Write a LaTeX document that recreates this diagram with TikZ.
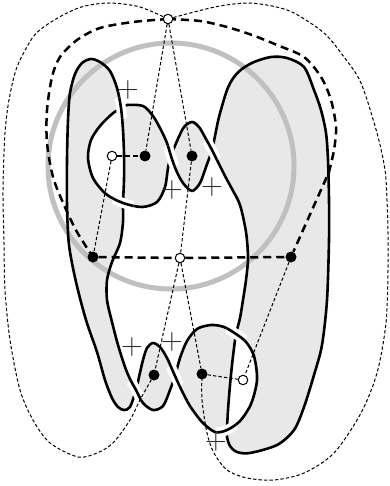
\documentclass[tikz,border=0pt]{standalone}
\pgfdeclarelayer{bg}
\pgfsetlayers{bg,main}
\definecolor{bandfill}{RGB}{232,232,232}
\definecolor{ringgray}{RGB}{192,192,192}
\definecolor{plusgray}{RGB}{45,45,45}
\tikzset{
  knot/.style={line width=2.6pt, line join=round, line cap=round},
  halo/.style={white, line width=10pt},
  thindash/.style={line width=1pt, dash pattern=on 3.3pt off 2.2pt},
  middash/.style={line width=1.6pt, dash pattern=on 5pt off 3pt},
  thickdash/.style={line width=2.5pt, dash pattern=on 8pt off 5pt},
  bdot/.style={circle, fill=black, inner sep=0pt, minimum size=11pt},
  wdot/.style={circle, draw=black, fill=white, line width=1pt, inner sep=0pt, minimum size=9.5pt},
  plusmark/.style={text=plusgray, inner sep=0pt, font=\fontsize{30}{30}\selectfont},
}
\newcommand\curveA{plot[smooth cycle] coordinates {(123,203) (124,180) (124,155) (123,130) (121,108) (117,88) (110,71) (100,62) (91,59) (82,63) (75,74) (70,93) (68,120) (67,160) (67,205) (69,245) (76,282) (86,320) (97,352) (105,380) (112,398) (118,407) (124,410) (130,407) (136,390) (139,377) (143,360) (147,348) (153,343) (160,347) (167,358) (175,376) (182,391) (190,406) (202,422) (215,432) (227,430) (240,421) (251,404) (257,380) (254,356) (246,342) (236,334) (224,327) (211,325) (197,329) (187,341) (180,358) (175,376) (170,390) (163,406) (153,410) (143,403) (136,390) (130,379) (125,367) (118,345) (112,322) (107,300) (107,280) (112,262) (120,243) (123,222)}}
\newcommand\curveB{plot[smooth cycle] coordinates {(121,108) (127,105) (143,106) (153,116) (161,130) (167,143) (171,156) (176,170) (183,183) (192,191) (200,183) (206,167) (212,150) (215,136) (219,117) (227,90) (234,77) (242,69) (254,62) (271,57) (287,58) (304,67) (314,90) (321,110) (326,133) (328,160) (329,200) (329,240) (327,300) (322,345) (314,375) (304,407) (294,430) (277,445) (250,453) (237,452) (230,446) (227,437) (227,430) (228,410) (230,385) (232,365) (234,348) (236,334) (240,318) (243,300) (246,280) (248,258) (246,232) (240,205) (232,189) (225,176) (218,162) (212,150) (206,139) (199,127) (192,122) (184,127) (177,141) (171,156) (168,168) (165,187) (157,202) (142,207) (123,203) (106,194) (93,178) (88,158) (91,140) (100,126) (112,114)}}
\newcommand\overat[2]{\begin{scope}\clip #1 circle (11pt); \draw[halo] plot[smooth] coordinates {#2}; \draw[knot] plot[smooth] coordinates {#2};\end{scope}}
\begin{document}
\begin{tikzpicture}[x=1pt,y=-1pt]
\useasboundingbox (0,0) rectangle (389,486);
% vertices
\node[wdot] (T) at (168,19) {};
\node[wdot] (H1) at (112,156) {};
\node[bdot] (B1) at (145,156) {};
\node[bdot] (B2) at (192,156) {};
\node[bdot] (L) at (93,257) {};
\node[wdot] (C) at (180,258) {};
\node[bdot] (R) at (291,257) {};
\node[bdot] (B3) at (154,375) {};
\node[bdot] (B4) at (202,374) {};
\node[wdot] (H2) at (243,380) {};
% plus marks
\node[plusmark] (p1) at (128,90) {+};
\node[plusmark] (p2) at (172,190) {+};
\node[plusmark] (p3) at (212,187) {+};
\node[plusmark] (p4) at (132,347) {+};
\node[plusmark] (p5) at (172,342) {+};
\node[plusmark] (p6) at (216,442) {+};
\begin{pgfonlayer}{bg}
\fill[white] (0,0) rectangle (389,486);
\fill[bandfill, even odd rule] \curveA \curveB;
\draw[ringgray, line width=5pt] (171,166) circle (123pt);
\draw[knot] \curveA;
\draw[knot] \curveB;
% crossings
\overat{(121,108)}{(124,180) (124,155) (123,130) (121,108) (117,88) (110,71) (100,62)}
\overat{(136,390)}{(170,390) (163,406) (153,410) (143,403) (136,390) (130,379) (125,367) (118,345)}
\overat{(175,376)}{(147,348) (153,343) (160,347) (167,358) (175,376) (182,391) (190,406) (202,422)}
\overat{(227,430)}{(190,406) (202,422) (215,432) (227,430) (240,421) (251,404) (257,380)}
\overat{(236,334)}{(257,380) (254,356) (246,342) (236,334) (224,327) (211,325) (197,329)}
\overat{(123,203)}{(168,168) (165,187) (157,202) (142,207) (123,203) (106,194) (93,178) (88,158)}
\overat{(171,156)}{(143,106) (153,116) (161,130) (167,143) (171,156) (176,170) (183,183) (192,191)}
\overat{(212,150)}{(240,205) (232,189) (225,176) (218,162) (212,150) (206,139) (199,127) (192,122)}
% dashed graph
\draw[thickdash] plot[smooth] coordinates {(T) (133,22) (100,28) (77,40) (60,57) (52,77) (47,110) (47,143) (53,177) (64,205) (77,232) (L)};
\draw[thickdash] plot[smooth] coordinates {(T) (200,21) (227,27) (252,35) (277,45) (304,57) (321,77) (331,100) (336,127) (334,150) (329,172)} -- (R);
\draw[thickdash] (L) -- (C) -- (R);
\draw[thindash] plot[smooth] coordinates {(T) (140,7) (110,3) (85,6) (67,13) (48,24) (33,37) (17,67) (9,100) (5,133) (3,190) (4,243) (5,290) (10,340) (20,390) (33,420) (50,443) (78,457) (97,453) (113,443) (130,420) (140,400) (B3)};
\draw[thindash] plot[smooth] coordinates {(T) (194,12) (220,6) (247,3) (272,6) (294,13) (324,33) (344,57) (361,83) (377,133) (385,170) (387,200) (388,233) (388,270) (386,323) (377,373) (361,413) (334,453) (304,473) (274,480) (247,478) (227,470) (214,453) (207,433) (202,400) (B4)};
\draw[thindash] (T) -- (B1);
\draw[thindash] (T) -- (B2);
\draw[middash] (H1) -- (B1);
\draw[thindash] (H1) -- (L);
\draw[thindash] (B2) -- (C);
\draw[thindash] (C) -- (B3);
\draw[thindash] (C) -- (B4);
\draw[thindash] (B4) -- (H2);
\draw[thindash] (R) -- (H2);
\end{pgfonlayer}
\end{tikzpicture}
\end{document}
